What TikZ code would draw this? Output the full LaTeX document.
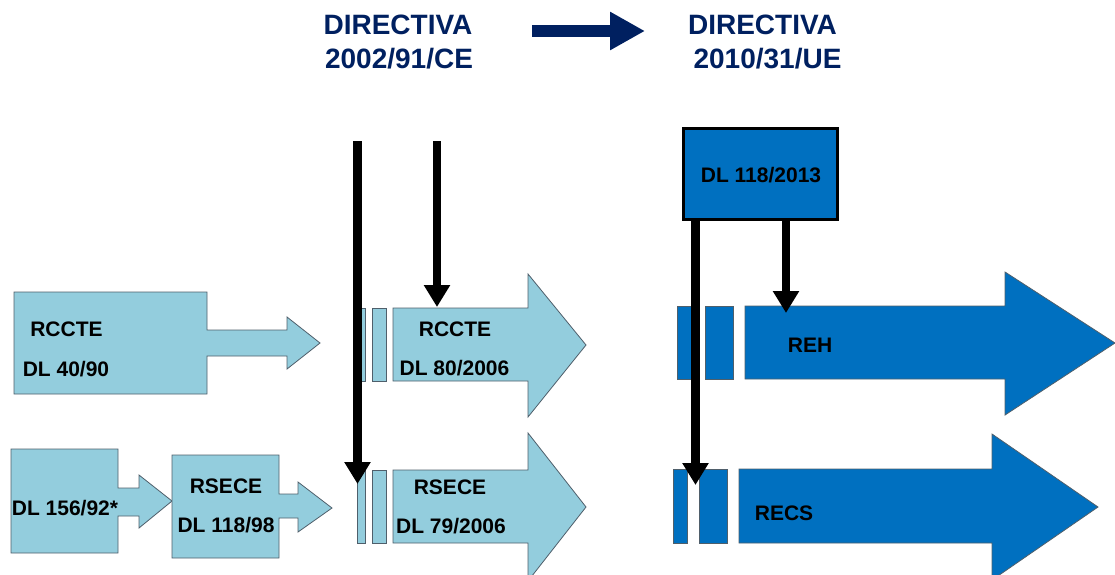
\documentclass[tikz,border=0pt]{standalone}
\usepackage{fontspec}
\setmainfont{Liberation Sans}
\usetikzlibrary{arrows.meta}
\definecolor{lblue}{HTML}{93CDDD}
\definecolor{dblue}{HTML}{0070C0}
\definecolor{navy}{HTML}{002060}
\definecolor{edgec}{HTML}{4F5F6B}
\begin{document}
\begin{tikzpicture}[x=1pt,y=-1pt,
  lbl/.style={font=\bfseries\fontsize{21}{24}\selectfont, anchor=base, inner sep=0pt, text=black},
  hdr/.style={font=\bfseries\fontsize{28}{32}\selectfont, anchor=base, inner sep=0pt, text=navy},
  lshape/.style={fill=lblue, draw=edgec, line width=0.8pt, line join=miter},
  dshape/.style={fill=dblue, draw=edgec, line width=0.8pt, line join=miter},
  blk/.style={draw=black, line width=8.5pt, -{Triangle[width=25pt,length=22pt]}},
  hdrarrow/.style={draw=navy, line width=12pt, -{Triangle[width=36pt,length=35pt]}}]
\useasboundingbox (0,0) rectangle (1115,574);
\clip (0,0) rectangle (1115,574);

% header
\node[hdr] (d1a) at (398,34) {DIRECTIVA};
\node[hdr] (d1b) at (399,68) {2002/91/CE};
\node[hdr] (d2a) at (762.5,34) {DIRECTIVA};
\node[hdr] (d2b) at (767.5,68) {2010/31/UE};
\coordinate (ha) at (532,31);
\coordinate (hb) at (645,31);
\draw[hdrarrow] (ha) -- (hb);

% row 1 left
\path[lshape] (14,292) -- (207,292) -- (207,330) -- (287,330) -- (287,317) -- (320,343)
  -- (287,369) -- (287,356) -- (207,356) -- (207,394) -- (14,394) -- cycle;
\node[lbl] (r1a) at (66.5,336) {RCCTE};
\node[lbl] (r1b) at (66,376) {DL 40/90};

% row 2 left
\path[lshape] (11,449) -- (118,449) -- (118,488) -- (139,488) -- (139,475) -- (172,501)
  -- (139,528) -- (139,516) -- (118,516) -- (118,553) -- (11,553) -- cycle;
\node[lbl] (r2a) at (65,515) {DL 156/92*};
\path[lshape] (172,455) -- (279,455) -- (279,494) -- (298,494) -- (298,482) -- (332,508)
  -- (298,532) -- (298,518) -- (279,518) -- (279,558) -- (172,558) -- cycle;
\node[lbl] (r2b) at (226,493) {RSECE};
\node[lbl] (r2c) at (226,532) {DL 118/98};

% row 1 middle
\path[lshape] (355,308) rectangle (365,381);
\path[lshape] (372,308) rectangle (386,381);
\path[lshape] (393,308) -- (528,308) -- (528,274) -- (586,345) -- (528,417) -- (528,381)
  -- (393,381) -- cycle;
\node[lbl] (m1a) at (455,336) {RCCTE};
\node[lbl] (m1b) at (454.5,375) {DL 80/2006};

% row 2 middle
\path[lshape] (357,470) rectangle (365,543);
\path[lshape] (372,470) rectangle (386,543);
\path[lshape] (393,470) -- (528,470) -- (528,433) -- (586,507) -- (528,581) -- (528,543)
  -- (393,543) -- cycle;
\node[lbl] (m2a) at (450,494) {RSECE};
\node[lbl] (m2b) at (451,533) {DL 79/2006};

% row 1 right
\path[dshape] (677,306) rectangle (694,379);
\path[dshape] (705,306) rectangle (733,379);
\path[dshape] (745,306) -- (1005,306) -- (1005,272) -- (1115,343) -- (1005,415) -- (1005,379)
  -- (745,379) -- cycle;
\node[lbl] (reh) at (810,352) {REH};

% row 2 right
\path[dshape] (673,469) rectangle (687,543);
\path[dshape] (699,469) rectangle (727,543);
\path[dshape] (739,469) -- (992,469) -- (992,434) -- (1098,507) -- (992,580) -- (992,543)
  -- (739,543) -- cycle;
\node[lbl] (recs) at (784,520) {RECS};

% DL 118/2013 box
\node[fill=dblue, draw=black, line width=3pt, minimum width=154pt, minimum height=91pt,
  inner sep=0pt] (dl2013) at (760.5,174) {};
\node[lbl] (dl2013t) at (761,182) {DL 118/2013};

% black arrows
\coordinate (s1) at (357.5,141);
\coordinate (t1) at (357.5,484);
\coordinate (s2) at (437,141);
\coordinate (t2) at (437,307);
\coordinate (s3) at (dl2013.south -| 695.5,0);
\coordinate (t3) at (695.5,485);
\coordinate (s4) at (dl2013.south -| 786,0);
\coordinate (t4) at (786,313);
\draw[blk] (s1) -- (t1);
\draw[blk] (s2) -- (t2);
\draw[blk] (s3) -- (t3);
\draw[blk] (s4) -- (t4);
\end{tikzpicture}
\end{document}
